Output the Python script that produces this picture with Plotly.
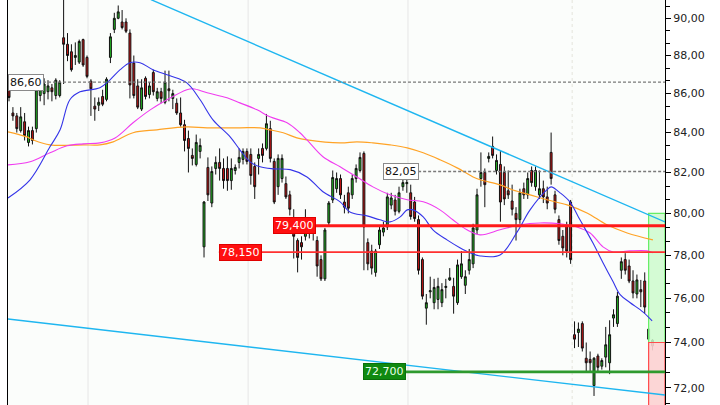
import math
import plotly.graph_objects as go

# ---------------- candle data (index = trading day) ----------------
opens = [86.2, 85.0, 84.85, 84.1, 84.55, 83.5, 84.1, 84.2, 85.9, 86.0,
         86.1, 86.3, 85.9, 85.9, 88.95, 88.6, 88.2, 87.9, 87.65, 88.85,
         87.9, 86.65, 85.35, 85.4, 85.85, 85.7, 87.9, 89.4, 90.0, 89.8,
         89.8, 89.2, 87.6, 86.4, 85.2, 86.8, 85.95, 87.1, 85.75, 86.1,
         85.55, 86.25, 85.75, 85.5, 85.0, 84.4, 83.7, 82.85, 82.4, 83.05,
         78.4, 82.25, 80.5, 82.2, 82.5, 82.2, 82.2, 81.6, 82.1, 82.5,
         82.65, 83.05, 82.9, 82.3, 82.7, 83.2, 83.2, 84.2, 82.55, 81.3,
         81.7, 81.45, 80.9, 79.2, 78.7, 78.6, 78.9, 79.1, 79.3, 78.7,
         77.8, 76.9, 79.55, 80.65, 81.2, 81.7, 80.55, 81.0, 80.9, 81.7,
         82.1, 82.95, 78.6, 78.2, 77.2, 78.5, 79.1, 79.35, 80.4, 80.65,
         80.1, 81.3, 81.45, 81.0, 80.55, 79.7, 77.8, 75.55, 76.3, 75.8,
         75.95, 75.8, 76.5, 76.85, 76.55, 75.8, 77.0, 76.6, 77.3, 77.6,
         79.2, 81.7, 82.0, 82.7, 83.3, 82.1, 82.4, 82.0, 81.1, 80.6,
         80.0, 79.7, 81.2, 80.9, 82.1, 81.3, 80.9, 81.2, 80.8, 83.0,
         80.9, 79.7, 78.9, 79.4, 80.55, 74.35, 74.45, 74.85, 73.3, 73.25,
         72.1, 73.4, 72.95, 73.35, 73.1, 75.1, 74.85, 77.3, 77.8, 77.5,
         76.8, 76.2, 76.4, 76.8, 74.15, 73.85]
highs = [86.4, 85.3, 85.0, 85.3, 85.0, 84.3, 84.3, 86.5, 86.6, 86.8,
         86.7, 86.5, 86.8, 86.7, 91.3, 89.2, 88.6, 88.7, 88.85, 88.9,
         88.0, 86.75, 85.8, 85.8, 86.2, 86.85, 89.2, 90.3, 90.7, 90.45,
         90.0, 89.4, 88.0, 86.75, 86.75, 86.9, 86.6, 87.25, 86.3, 86.3,
         87.2, 87.2, 86.2, 85.75, 85.8, 84.65, 84.1, 83.2, 83.9, 83.7,
         80.6, 82.75, 82.3, 82.8, 83.2, 82.7, 82.8, 82.7, 82.4, 83.2,
         83.2, 83.2, 83.2, 82.5, 83.2, 83.45, 84.95, 84.6, 82.7, 82.9,
         82.9, 81.8, 81.1, 80.2, 78.8, 78.9, 80.2, 79.6, 79.5, 78.9,
         78.0, 79.3, 80.6, 82.1, 82.0, 81.9, 80.9, 81.3, 81.9, 82.4,
         83.0, 83.05, 78.8, 78.5, 78.3, 79.4, 79.6, 81.0, 81.0, 80.9,
         81.3, 81.7, 82.05, 81.4, 80.8, 79.9, 77.9, 76.2, 77.0, 76.9,
         76.95, 76.7, 76.9, 77.4, 76.95, 77.8, 78.2, 77.3, 78.3, 79.5,
         81.2, 83.0, 82.2, 83.0, 83.8, 82.9, 83.1, 82.3, 82.1, 81.4,
         80.3, 81.2, 81.5, 82.0, 82.3, 82.3, 82.1, 81.6, 81.3, 84.0,
         81.1, 79.9, 79.2, 79.6, 80.65, 74.95, 74.9, 74.95, 74.0, 73.6,
         73.35, 73.5, 73.3, 74.7, 75.0, 75.5, 76.3, 77.9, 78.1, 77.8,
         77.3, 77.1, 76.85, 77.2, 74.65, 74.15]
lows = [85.6, 84.6, 84.0, 84.0, 83.6, 83.3, 83.4, 84.0, 85.6, 85.4,
        85.7, 85.6, 85.7, 85.8, 86.5, 87.7, 87.15, 87.5, 87.55, 87.4,
        86.8, 84.85, 84.6, 85.1, 85.35, 85.6, 87.6, 89.2, 89.95, 89.4,
        89.2, 85.75, 85.75, 85.2, 85.1, 85.7, 85.75, 85.9, 85.6, 85.5,
        85.45, 85.6, 85.2, 84.9, 84.3, 83.05, 82.0, 82.35, 82.3, 82.7,
        77.9, 80.6, 80.3, 81.9, 81.6, 81.2, 81.1, 81.15, 81.9, 82.2,
        82.4, 82.4, 81.4, 80.7, 81.9, 82.5, 83.1, 82.5, 80.45, 80.9,
        81.5, 80.7, 79.9, 77.85, 77.2, 77.8, 78.7, 78.8, 78.7, 77.0,
        76.8, 76.8, 79.4, 80.5, 81.0, 80.7, 80.0, 80.0, 80.7, 81.5,
        82.0, 77.3, 77.3, 77.1, 77.0, 78.3, 78.9, 79.2, 80.2, 79.9,
        80.0, 81.1, 81.0, 79.7, 79.6, 77.1, 75.95, 74.8, 76.0, 75.5,
        75.5, 75.6, 76.0, 76.8, 75.3, 75.7, 76.9, 76.2, 77.1, 77.4,
        79.0, 81.3, 80.3, 82.5, 82.7, 81.9, 79.6, 80.4, 80.7, 79.9,
        78.7, 79.5, 80.7, 80.7, 81.3, 81.1, 80.7, 80.5, 80.2, 81.4,
        80.0, 78.5, 78.0, 77.9, 77.6, 73.75, 73.8, 73.6, 72.7, 72.7,
        71.65, 72.7, 72.8, 72.9, 72.6, 74.7, 74.7, 76.9, 77.1, 76.7,
        76.0, 76.0, 75.6, 75.3, 74.05, 73.65]
closes = [85.8, 84.85, 84.2, 84.8, 83.85, 84.1, 83.6, 86.2, 86.3, 86.5,
          86.4, 86.1, 86.7, 86.6, 88.6, 88.0, 87.25, 88.0, 88.75, 87.5,
          86.9, 86.25, 85.2, 85.55, 85.45, 86.75, 89.0, 90.0, 90.35, 89.5,
          89.3, 86.45, 85.9, 85.3, 86.3, 85.85, 86.4, 86.1, 86.1, 85.75,
          86.6, 86.15, 86.0, 85.0, 84.4, 83.6, 83.2, 82.7, 83.5, 83.35,
          80.55, 80.9, 82.05, 82.5, 82.2, 81.6, 81.6, 82.2, 82.25, 82.75,
          83.05, 82.55, 81.85, 81.3, 82.9, 82.85, 84.45, 82.7, 80.55, 82.7,
          82.7, 80.8, 80.2, 78.9, 77.9, 78.4, 79.2, 79.4, 79.1, 77.5,
          76.9, 79.2, 80.5, 81.75, 81.7, 80.9, 80.3, 80.25, 81.7, 82.2,
          82.75, 79.35, 77.6, 77.4, 78.2, 79.2, 79.3, 80.8, 80.75, 80.1,
          81.0, 81.5, 81.5, 79.85, 79.75, 77.3, 76.1, 75.8, 76.35, 76.5,
          76.55, 76.4, 76.55, 76.95, 76.1, 77.55, 77.6, 77.0, 77.8, 79.3,
          80.9, 82.0, 81.4, 82.8, 82.85, 82.6, 80.55, 80.7, 80.9, 80.2,
          79.7, 81.0, 80.9, 81.7, 81.5, 82.1, 81.2, 80.8, 80.5, 81.7,
          80.2, 78.7, 78.35, 78.2, 77.8, 74.15, 74.6, 73.75, 73.1, 73.1,
          73.3, 72.9, 73.2, 73.9, 74.35, 75.25, 76.1, 77.7, 77.3, 76.8,
          76.25, 76.85, 76.3, 75.6, 74.6, 74.1]
days = list(range(len(opens)))

# ---------------- moving averages ----------------
ma_fast_x = [-0.26, 5.4, 10.5, 13.1, 15.6, 18.2, 23.3, 25.9, 28.5, 31.0, 33.6, 36.9,
             41.3, 45.6, 49.0, 52.3, 56.7, 59.2, 61.8, 64.4, 67.7, 72.1, 76.4, 80.5,
             84.9, 87.4, 91.8, 95.1, 97.7, 100.3, 102.1, 103.6, 106.2, 108.7, 112.3,
             115.6, 118.2, 120.8, 125.9, 130.3, 133.6, 137.9, 139.0, 141.3, 143.8,
             146.4, 149.7, 152.3, 154.9, 156.7, 159.2, 162.6, 164.9]
ma_fast_y = [80.75, 81.64, 83.28, 84.14, 85.68, 86.09, 86.30, 86.72, 87.25, 87.62, 87.62, 87.25,
             86.93, 86.56, 85.68, 84.65, 83.78, 83.13, 82.53, 82.28, 82.18, 82.14, 81.78, 81.05,
             80.56, 80.07, 79.88, 79.69, 79.59, 79.83, 80.17, 80.17, 79.83, 79.21, 78.73,
             78.36, 78.12, 77.97, 78.02, 79.11, 80.17, 81.14, 81.29, 81.0, 80.56,
             79.69, 78.59, 77.65, 76.76, 76.17, 75.81, 75.37, 74.97]

ma_mid_x = [-0.26, 5.4, 10.5, 14.9, 19.0, 23.3, 27.2, 31.8, 36.2, 40.5, 45.6, 47.2,
            50.8, 55.9, 59.2, 63.6, 66.9, 71.3, 74.6, 76.4, 80.5, 84.9, 89.2, 93.3,
            97.7, 102.1, 106.2, 110.5, 113.8, 117.4, 120.8, 125.9, 131.0, 136.2,
            141.3, 145.6, 149.0, 152.3, 154.9, 159.2, 163.6, 165.1]
ma_mid_y = [82.38, 82.53, 82.98, 83.33, 83.43, 83.48, 83.73, 84.5, 85.16, 85.68, 86.2, 86.25,
            86.04, 85.78, 85.52, 85.16, 84.8, 84.5, 83.99, 83.63, 82.78, 82.28, 81.78, 81.29,
            80.9, 80.66, 80.56, 80.17, 79.69, 79.21, 78.97, 79.21, 79.45, 79.54,
            79.5, 79.35, 79.06, 78.4, 78.16, 78.21, 78.21, 78.12]

ma_slow_x = [-0.26, 4.6, 6.2, 10.5, 19.0, 23.3, 26.7, 31.8, 37.9, 45.6, 50.8, 59.2,
             64.4, 66.9, 70.3, 73.8, 76.4, 84.9, 89.2, 93.3, 97.7, 102.1, 106.2, 110.5,
             114.9, 119.0, 120.8, 125.9, 129.2, 133.6, 137.9, 143.1, 148.2, 153.3,
             158.5, 165.1]
ma_slow_y = [84.04, 83.78, 83.63, 83.38, 83.38, 83.38, 83.53, 83.99, 84.14, 84.29, 84.24, 84.24,
             84.24, 84.14, 83.99, 83.73, 83.63, 83.48, 83.53, 83.48, 83.38, 83.23, 82.98, 82.63,
             82.23, 81.78, 81.64, 81.39, 81.14, 80.9, 80.66, 80.41, 80.02, 79.45,
             79.06, 78.73]

# ---------------- drawn objects ----------------
trend_upper_x = [36.4, 168.2]
trend_upper_y = [91.02, 79.59]
trend_lower_x = [-0.26, 168.2]
trend_lower_y = [75.06, 71.69]

level_dash_1 = 86.60
level_dash_2 = 82.05
level_red_thick = 79.40
level_red_thin = 78.15
level_green = 72.70

box_x = [164.0, 168.2]
box_entry = 74.0
box_target = 80.0
box_stop = 70.5

tick_vals = [72, 74, 76, 78, 80, 82, 84, 86, 88, 90]
tick_text = ["72,00", "74,00", "76,00", "78,00", "80,00", "82,00", "84,00", "86,00", "88,00", "90,00"]

X0, X1 = -0.26, 168.2
Y0, Y1 = 71.26, 91.0

fig = go.Figure()

# position boxes
fig.add_trace(go.Scatter(
    x=[box_x[0], box_x[1], box_x[1], box_x[0], box_x[0]],
    y=[box_entry, box_entry, box_target, box_target, box_entry],
    fill="toself", fillcolor="rgba(205,250,205,0.85)", mode="lines",
    line=dict(color="#66EE66", width=1.2), hoverinfo="skip", showlegend=False))
fig.add_trace(go.Scatter(
    x=[box_x[0], box_x[1], box_x[1], box_x[0], box_x[0]],
    y=[box_stop, box_stop, box_entry, box_entry, box_stop],
    fill="toself", fillcolor="rgba(252,210,210,0.9)", mode="lines",
    line=dict(color="#FF4C4C", width=1.2), hoverinfo="skip", showlegend=False))

# candles
fig.add_trace(go.Candlestick(
    x=days, open=opens, high=highs, low=lows, close=closes,
    increasing=dict(line=dict(color="#111111", width=1), fillcolor="#22B822"),
    decreasing=dict(line=dict(color="#111111", width=1), fillcolor="#C81414"),
    whiskerwidth=0, showlegend=False, hoverinfo="skip"))

# moving averages
fig.add_trace(go.Scatter(x=ma_slow_x, y=ma_slow_y, mode="lines",
                         line=dict(color="#FFA326", width=1.2, shape="spline"),
                         showlegend=False, hoverinfo="skip"))
fig.add_trace(go.Scatter(x=ma_mid_x, y=ma_mid_y, mode="lines",
                         line=dict(color="#F03CF0", width=1.1, shape="spline"),
                         showlegend=False, hoverinfo="skip"))
fig.add_trace(go.Scatter(x=ma_fast_x, y=ma_fast_y, mode="lines",
                         line=dict(color="#3434E8", width=1.1, shape="spline"),
                         showlegend=False, hoverinfo="skip"))

# trend lines
for tx, ty in ((trend_upper_x, trend_upper_y), (trend_lower_x, trend_lower_y)):
    fig.add_trace(go.Scatter(x=tx, y=ty, mode="lines",
                             line=dict(color="#1EB6F0", width=1.4),
                             showlegend=False, hoverinfo="skip"))

# horizontal levels
fig.add_trace(go.Scatter(x=[X0, X1], y=[level_dash_1] * 2, mode="lines",
                         line=dict(color="#7A7A7A", width=1.3, dash="3px,2px"),
                         showlegend=False, hoverinfo="skip"))
fig.add_trace(go.Scatter(x=[104.9, X1], y=[level_dash_2] * 2, mode="lines",
                         line=dict(color="#7A7A7A", width=1.3, dash="3px,2px"),
                         showlegend=False, hoverinfo="skip"))
fig.add_trace(go.Scatter(x=[67.7, X1], y=[level_red_thick] * 2, mode="lines",
                         line=dict(color="#FF1A1A", width=3),
                         showlegend=False, hoverinfo="skip"))
fig.add_trace(go.Scatter(x=[53.8, X1], y=[level_red_thin] * 2, mode="lines",
                         line=dict(color="#FF3030", width=1.6),
                         showlegend=False, hoverinfo="skip"))
fig.add_trace(go.Scatter(x=[90.8, X1], y=[level_green] * 2, mode="lines",
                         line=dict(color="#2E9A2E", width=2.6),
                         showlegend=False, hoverinfo="skip"))

lab_font = "DejaVu Sans"
def label(x, val, text, bg, fg, border, xref="x"):
    fig.add_annotation(x=x, y=math.log10(val), xref=xref, yref="y", text=text,
                       showarrow=False, xanchor="left", yanchor="middle",
                       bgcolor=bg, bordercolor=border, borderwidth=1, borderpad=1,
                       font=dict(family=lab_font, size=11, color=fg))

label(0, level_dash_1, "86,60", "#FFFFFF", "#111111", "#8A8A8A", xref="paper")
label(95.9, level_dash_2, "82,05", "#FFFFFF", "#111111", "#8A8A8A")
label(67.7, level_red_thick, "79,400", "#FF1010", "#FFFFFF", "#E00000")
label(53.8, level_red_thin, "78,150", "#FF1010", "#FFFFFF", "#E00000")
label(90.8, level_green, "72,700", "#108A10", "#E8FFE8", "#0A700A")

# grid lines
shapes = []
for v in tick_vals:
    dotted = v in (82, 80, 74, 72)
    shapes.append(dict(type="line", xref="paper", yref="y", x0=0, x1=1,
                       y0=math.log10(v), y1=math.log10(v), layer="below",
                       line=dict(color="#E4E4DC" if dotted else "#E6E6E6", width=1,
                                 dash="dot" if dotted else "solid")))
for xv, dotted in ((20.26, False), (61.3, False), (102.3, False), (144.4, True)):
    shapes.append(dict(type="line", xref="x", yref="paper", x0=xv, x1=xv, y0=0, y1=1,
                       layer="below",
                       line=dict(color="#E4E4DC" if dotted else "#E6E6E6", width=1,
                                 dash="dot" if dotted else "solid")))

minor_vals = []
for v in [70] + tick_vals:
    minor_vals += [v + 2 / 3, v + 4 / 3]

fig.update_layout(
    width=720, height=405,
    margin=dict(l=8, r=55, t=0, b=0, pad=0, autoexpand=False),
    paper_bgcolor="#FFFFFF", plot_bgcolor="#FBFDFB",
    shapes=shapes,
    xaxis=dict(range=[X0, X1], showgrid=False, zeroline=False, showticklabels=False,
               ticks="", rangeslider=dict(visible=False), showline=False, fixedrange=True,
               automargin=False),
    yaxis=dict(type="log", range=[math.log10(Y0), math.log10(Y1)], side="right",
               tickmode="array", tickvals=tick_vals, ticktext=tick_text,
               ticks="outside", ticklen=5, tickcolor="#000000", tickwidth=1,
               showgrid=False, zeroline=False, automargin=False,
               showline=True, linecolor="#000000", linewidth=1, mirror=True,
               tickfont=dict(family="DejaVu Sans", size=11, color="#222222"),
               minor=dict(tickvals=minor_vals, ticks="outside", ticklen=4,
                          tickcolor="#000000", showgrid=False)),
    showlegend=False,
)

fig.write_html("out.html",
               config={"displayModeBar": False, "staticPlot": True},
               post_script="document.body.style.margin='0';document.body.style.padding='0';")
